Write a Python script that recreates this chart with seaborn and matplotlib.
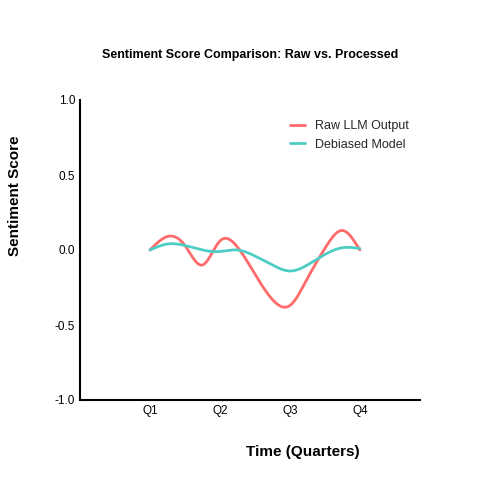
import numpy as np
import pandas as pd
import matplotlib
matplotlib.use("Agg")
import matplotlib.pyplot as plt
import seaborn as sns

quarters = ["Q1", "Q2", "Q3", "Q4"]
t = [0, 0.25, 0.5, 0.75, 1.0, 1.25, 1.5, 1.75, 2.0, 2.25, 2.5, 2.75, 3.0]
raw = [0, 0.09, 0.03, -0.10, 0.06, 0.02, -0.16, -0.33, -0.37, -0.19, 0.01, 0.13, 0.0]
deb = [0, 0.04, 0.03, 0.0, -0.01, 0.0, -0.04, -0.10, -0.14, -0.10, -0.03, 0.015, 0.01]

def spline(x, y, n=300):
    x = np.asarray(x, float); y = np.asarray(y, float)
    k = len(x); h = np.diff(x)
    A = np.zeros((k, k)); b = np.zeros(k)
    A[0, 0] = A[-1, -1] = 1
    for i in range(1, k - 1):
        A[i, i-1] = h[i-1]; A[i, i] = 2*(h[i-1]+h[i]); A[i, i+1] = h[i]
        b[i] = 6*((y[i+1]-y[i])/h[i] - (y[i]-y[i-1])/h[i-1])
    M = np.linalg.solve(A, b)
    xs = np.linspace(x[0], x[-1], n)
    idx = np.clip(np.searchsorted(x, xs) - 1, 0, k - 2)
    x0, x1 = x[idx], x[idx+1]; hh = x1 - x0
    ys = (M[idx]*(x1-xs)**3 + M[idx+1]*(xs-x0)**3)/(6*hh) + \
         (y[idx]/hh - M[idx]*hh/6)*(x1-xs) + (y[idx+1]/hh - M[idx+1]*hh/6)*(xs-x0)
    return xs, ys

sns.set_style("white")
plt.rcParams['font.family'] = ['Liberation Sans', 'DejaVu Sans']
plt.rcParams['axes.unicode_minus'] = False
fig = plt.figure(figsize=(5, 5), dpi=100)
ax = fig.add_axes([0.16, 0.2, 0.68, 0.6])
rows = []
for name, vals in [("Raw LLM Output", raw), ("Debiased Model", deb)]:
    xs, ys = spline(t, vals)
    rows.append(pd.DataFrame({"x": xs, "y": ys, "s": name}))
df = pd.concat(rows)
sns.lineplot(data=df, x="x", y="y", hue="s", palette=["#FF6B6B", "#4ECDC4"],
             linewidth=2, ax=ax, sort=False)
ax.set_xlim(-1, 3.86)
ax.set_ylim(-1, 1)
ax.set_xticks(range(4)); ax.set_xticklabels(quarters)
ax.set_yticks([-1, -0.5, 0, 0.5, 1])
ax.tick_params(labelsize=8.5, length=0, labelcolor="black")
for s in ax.spines.values():
    s.set_color("black"); s.set_linewidth(1.5)
sns.despine(ax=ax)
ax.set_xlabel("Time (Quarters)", fontsize=11, fontweight="bold", color="black")
ax.xaxis.set_label_coords(0.656, -0.15)
ax.set_ylabel("Sentiment Score", fontsize=11, fontweight="bold", color="black")
ax.yaxis.set_label_coords(-0.17, 0.68)
ax.set_title("Sentiment Score Comparison: Raw vs. Processed", fontsize=9,
             fontweight="bold", pad=30, color="black")
ax.legend(title=None, frameon=False, loc="upper right", fontsize=9,
          bbox_to_anchor=(1.0, 0.97), handlelength=1.2)
fig.savefig("out.png")
